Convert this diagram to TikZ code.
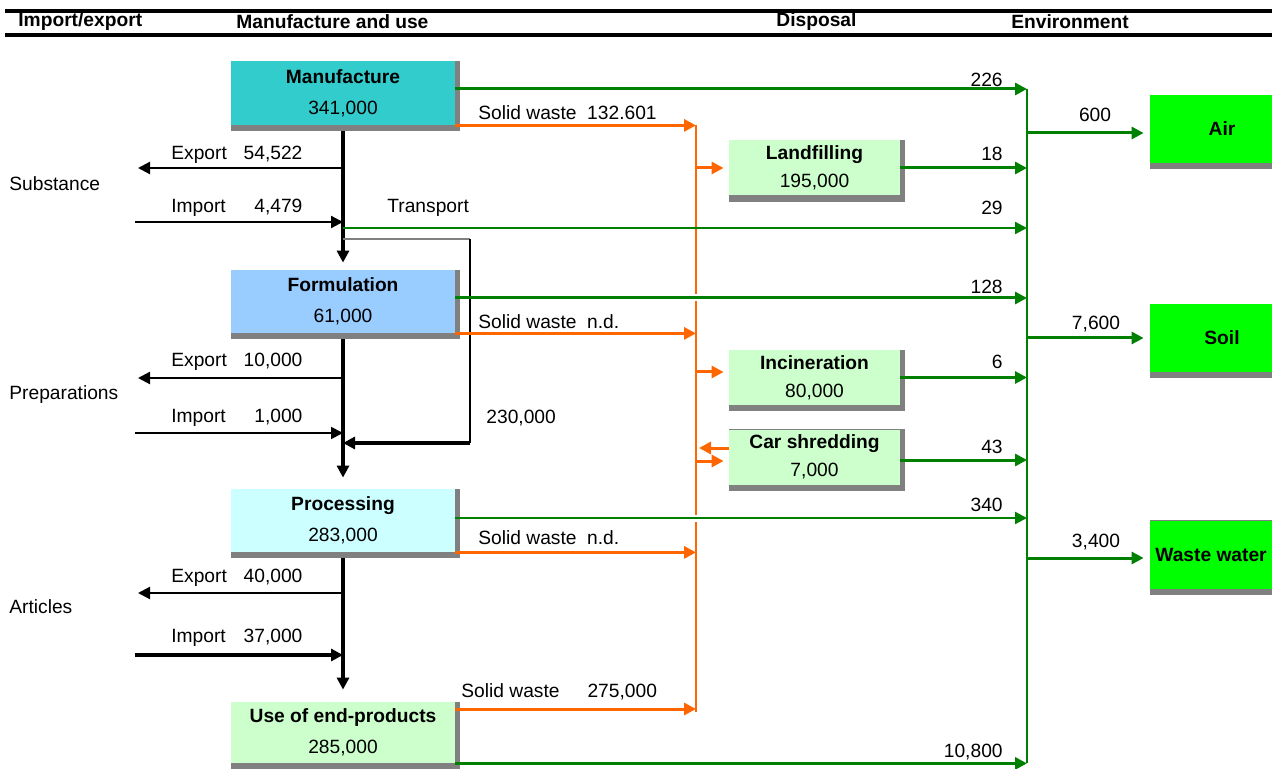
\documentclass[tikz,border=0pt]{standalone}
\usepackage{fontspec}
\setmainfont{Liberation Sans}
\usetikzlibrary{arrows.meta,backgrounds}

\definecolor{flowgreen}{HTML}{008000}
\definecolor{floworange}{HTML}{FF6600}
\definecolor{shadegrey}{HTML}{808080}
\definecolor{manufcol}{HTML}{33CCCC}
\definecolor{formulcol}{HTML}{99CCFF}
\definecolor{processcol}{HTML}{CCFFFF}
\definecolor{palegreen}{HTML}{CCFFCC}
\definecolor{envgreen}{HTML}{00FF00}

\begin{document}
\begin{tikzpicture}[x=0.5pt, y=-0.5pt, font=\fontsize{9.6}{11.5}\selectfont,
  tip/.style={-{Triangle[length=6pt, width=6pt]}},
  stage/.style={inner sep=0pt, minimum width=112pt, align=center, font=\fontsize{9.6}{15.5}\selectfont},
  sink/.style={inner sep=0pt, minimum width=85.5pt, minimum height=27.5pt, fill=palegreen, align=center, font=\fontsize{9.6}{14}\selectfont},
  medium/.style={inner sep=0pt, minimum width=72pt, minimum height=34pt, fill=envgreen, font=\fontsize{9.6}{11.5}\selectfont\bfseries},
  mainflow/.style={tip, line width=1.6pt},
  trade/.style={tip, line width=1.1pt},
  gflow/.style={tip, draw=flowgreen, line width=1.5pt},
  gthin/.style={tip, draw=flowgreen, line width=1.1pt},
  oflow/.style={tip, draw=floworange, line width=1.5pt},
  halo/.style={preaction={draw=white, line width=3.5pt, -, shorten <=8pt, shorten >=8pt}},
  flowlab/.style={anchor=west, inner sep=0pt, text width=65.5pt},
  val/.style={anchor=east, inner sep=0pt},
  midlab/.style={inner sep=0pt},
  txt/.style={anchor=west, inner sep=0pt},
  headtxt/.style={anchor=west, inner sep=0pt, font=\fontsize{9.6}{11.5}\selectfont\bfseries},
  boxshade/.style={fill=shadegrey}]
\useasboundingbox (0,0) rectangle (1272,769);
% header
\draw[line width=1.7pt] (5,11) -- (1272,11);
\draw[line width=1.7pt] (5,35) -- (1272,35);
\node[headtxt] (hie) at (18,22) {Import/export};
\node[headtxt] (hmu) at (236,22) {Manufacture and use};
\node[headtxt] (hdis) at (776,22) {Disposal};
\node[headtxt] (henv) at (1011,22) {Environment};

% boxes
\node[stage, fill=manufcol, minimum height=32pt] (man) at (343,93) {\textbf{Manufacture}\\341,000};
\node[stage, fill=formulcol, minimum height=31.5pt] (form) at (343,301.5) {\textbf{Formulation}\\61,000};
\node[stage, fill=processcol, minimum height=31.5pt] (proc) at (343,520.5) {\textbf{Processing}\\283,000};
\node[stage, fill=palegreen, minimum height=30.5pt] (use) at (343,732.5) {\textbf{Use of end-products}\\285,000};
\node[sink] (land) at (814.5,168) {\textbf{Landfilling}\\195,000};
\node[sink] (inc) at (814.5,377.5) {\textbf{Incineration}\\80,000};
\node[sink] (car) at (814.5,457) {\textbf{Car shredding}\\7,000};
\node[medium] (air) at (1222,129) {Air};
\node[medium] (soil) at (1222,338) {Soil};
\node[medium, minimum width=61pt] (ww) at (1211,554.5) {Waste water};

\node[txt] (subst) at (9,184) {Substance};
\node[txt] (prep) at (9,395) {Preparations};
\node[txt] (artic) at (9,607) {Articles};

\coordinate (envtop) at (1027,89);
\coordinate (envbot) at (1027,763);
\coordinate (wastetop) at (696,125);
\coordinate (wastebot) at (696,712);

% main chain
\draw[mainflow, shorten <=3pt, shorten >=3.5pt] (man.south) -- (form.north);
\draw[mainflow, shorten <=3pt, shorten >=5.5pt] (form.south) -- (proc.north);
\draw[mainflow, shorten <=3pt, shorten >=6pt] (proc.south) -- (use.north);

% import / export
\coordinate (ex1) at (138,168);
\coordinate (im1) at (135,222);
\coordinate (ex2) at (138,378);
\coordinate (im2) at (135,433);
\coordinate (ex3) at (138,593);
\coordinate (im3) at (135,655);
\draw[trade] (man.south |- ex1) -- (ex1);
\draw[trade] (im1) -- (man.south |- im1);
\draw[trade] (form.south |- ex2) -- (ex2);
\draw[tip, line width=0.9pt] (im2) -- (form.south |- im2);
\draw[trade] (proc.south |- ex3) -- (ex3);
\draw[mainflow] (im3) -- (proc.south |- im3);
\node[flowlab] (lex1) at (171,155) {Export\hfill 54,522};
\node[flowlab] (lim1) at (171,208) {Import\hfill 4,479};
\node[flowlab] (lex2) at (171,362) {Export\hfill 10,000};
\node[flowlab] (lim2) at (171,418) {Import\hfill 1,000};
\node[flowlab] (lex3) at (171,578) {Export\hfill 40,000};
\node[flowlab] (lim3) at (171,638) {Import\hfill 37,000};

% transport loop
\coordinate (br1) at (343,239);
\coordinate (br2) at (470,239);
\coordinate (br3) at (470,443);
\draw[shadegrey, line width=0.7pt] (br1) -- (br2);
\draw[line width=0.6pt] (br2) -- (br3);
\draw[mainflow] (br3) -- (form.south |- br3);
\node[txt] (transp) at (387,208) {Transport};
\node[txt] (lret) at (486,418) {230,000};

% solid waste
\draw[floworange, line width=0.7pt] (wastetop) -- (wastebot);
\coordinate (ow4) at ([yshift=11.75pt]use.east);
\draw[oflow] (man.south east) -- (man.south east -| wastetop);
\draw[oflow] (form.south east) -- (form.south east -| wastetop);
\draw[oflow] (proc.south east) -- (proc.south east -| wastetop);
\draw[oflow] (ow4) -- (ow4 -| wastetop);
\node[txt] (sw1) at (478,113) {Solid waste\ \ 132.601};
\node[txt] (sw2) at (478,322) {Solid waste\ \ n.d.};
\node[txt] (sw3) at (478,538) {Solid waste\ \ n.d.};
\node[txt] (sw4) at (461,692) {Solid waste\hspace{14pt}275,000};
\coordinate (oinc) at ([yshift=2.75pt]inc.west);
\coordinate (ocarout) at ([yshift=4.5pt]car.west);
\coordinate (ocarin) at ([yshift=-2pt]car.west);
\draw[oflow, shorten >=2.5pt] (land.west -| wastetop) -- (land.west);
\draw[oflow, shorten >=2.5pt] (oinc -| wastetop) -- (oinc);
\draw[oflow, shorten >=1.5pt] (ocarout) -- (ocarout -| wastetop);
\draw[oflow, shorten >=2.5pt] (ocarin -| wastetop) -- (ocarin);

% emissions
\coordinate (g226) at ([yshift=2pt]man.east);
\coordinate (g29) at (343,228);
\coordinate (g128) at ([yshift=1.75pt]form.east);
\coordinate (g340) at ([yshift=1.25pt]proc.east);
\coordinate (g43) at ([yshift=-1.5pt]car.east);
\draw[gflow] (g226) -- (g226 -| envtop);
\draw[gthin] (g29) -- (g29 -| envtop);
\draw[gflow, halo] (g128) -- (g128 -| envtop);
\draw[gthin, halo] (g340) -- (g340 -| envtop);
\draw[gflow] (use.south east) -- (use.south east -| envtop);
\draw[gflow] (land.east) -- (land.east -| envtop);
\draw[gflow] (inc.east) -- (inc.east -| envtop);
\draw[gflow] (g43) -- (g43 -| envtop);
\node[val] (l226) at (1003,80) {226};
\node[val] (l18) at (1003,154) {18};
\node[val] (l29) at (1003,208) {29};
\node[val] (l128) at (1003,287) {128};
\node[val] (l6) at (1003,362) {6};
\node[val] (l43) at (1003,447) {43};
\node[val] (l340) at (1003,505) {340};
\node[val] (l10800) at (1003,752) {10,800};

% environment
\draw[flowgreen, line width=0.7pt] (envtop) -- (envbot);
\coordinate (eair) at ([yshift=-2pt]air.west);
\coordinate (eww) at ([yshift=-1.75pt]ww.west);
\draw[gflow, shorten >=3pt] (eair -| envtop) -- (eair);
\draw[gflow, shorten >=3pt] (soil.west -| envtop) -- (soil.west);
\draw[gflow, shorten >=3pt] (eww -| envtop) -- (eww);
\node[midlab] (l600) at (1095,115) {600};
\node[midlab] (l7600) at (1096,324) {7,600};
\node[midlab] (l3400) at (1096,542) {3,400};

\begin{scope}[on background layer]
\foreach \b in {man,form,proc,use,land,inc,car,air,soil,ww}
  \fill[boxshade] (\b.north west) rectangle ([xshift=2.5pt,yshift=-3pt]\b.south east);
\end{scope}
\end{tikzpicture}
\end{document}
